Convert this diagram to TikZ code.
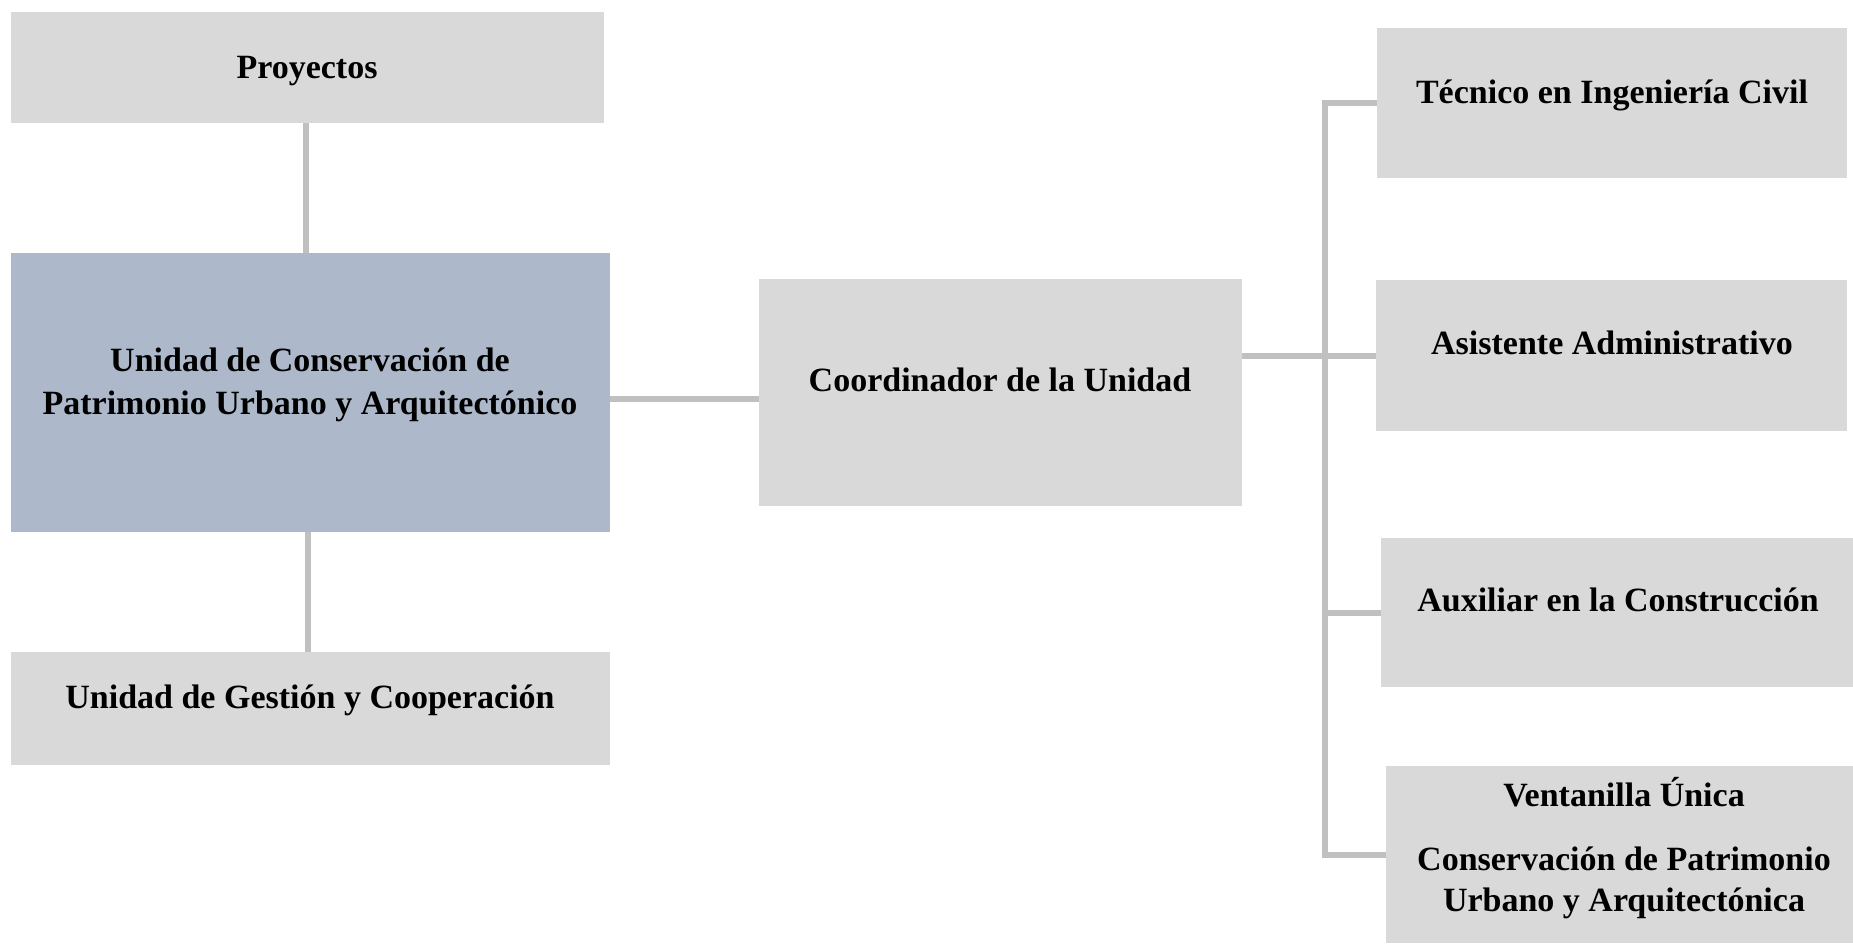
\documentclass[tikz,border=0pt]{standalone}
\usepackage{fontspec}
\setmainfont{Liberation Serif}
\definecolor{boxgray}{HTML}{D9D9D9}
\definecolor{boxblue}{HTML}{ADB9CA}
\definecolor{linegray}{HTML}{C0C0C0}
\tikzset{
  box/.style={rectangle, fill=boxgray, draw=none, inner sep=0pt, anchor=north west},
  bluebox/.style={box, fill=boxblue},
  lbl/.style={anchor=base, inner sep=0pt, align=center, font=\bfseries\fontsize{34}{42}\selectfont, text=black},
  conn/.style={draw=linegray, line width=6pt, line join=miter}
}
\begin{document}
\begin{tikzpicture}[x=1pt,y=-1pt]
\fill[white] (0,0) rectangle (1853,943);
\useasboundingbox (0,0) rectangle (1853,943);
% boxes
\node[box, minimum width=593pt, minimum height=111pt] (proy) at (11,12) {};
\node[bluebox, minimum width=599pt, minimum height=279pt] (ucp) at (11,253) {};
\node[box, minimum width=599pt, minimum height=113pt] (gest) at (11,652) {};
\node[box, minimum width=483pt, minimum height=227pt] (coord) at (759,279) {};
\node[box, minimum width=470pt, minimum height=150pt] (tec) at (1377,28) {};
\node[box, minimum width=471pt, minimum height=151pt] (asis) at (1376,280) {};
\node[box, minimum width=472pt, minimum height=149pt] (aux) at (1381,538) {};
\node[box, minimum width=467pt, minimum height=177pt] (vent) at (1386,766) {};
% labels
\node[lbl] (tproy) at (307,78) {Proyectos};
\node[lbl] (tucp1) at (310,371) {Unidad de Conservación de};
\node[lbl] (tucp2) at (310,414) {Patrimonio Urbano y Arquitectónico};
\node[lbl] (tgest) at (310,708) {Unidad de Gestión y Cooperación};
\node[lbl] (tcoord) at (1000,391) {Coordinador de la Unidad};
\node[lbl] (ttec) at (1612,103) {Técnico en Ingeniería Civil};
\node[lbl] (tasis) at (1612,354) {Asistente Administrativo};
\node[lbl] (taux) at (1618,611) {Auxiliar en la Construcción};
\node[lbl] (tvent1) at (1624,806) {Ventanilla Única};
\node[lbl] (tvent2) at (1624,870) {Conservación de Patrimonio};
\node[lbl] (tvent3) at (1624,911) {Urbano y Arquitectónica};
% connectors
\coordinate (bx) at (1325,0);
\draw[conn] ([xshift=-1.5pt]proy.south) -- ([xshift=-1.5pt]proy.south |- ucp.north);
\draw[conn] ([xshift=-2.5pt]ucp.south) -- ([xshift=-2.5pt]ucp.south |- gest.north);
\draw[conn] ([yshift=-6pt]ucp.east) -- ([yshift=-6pt]ucp.east -| coord.west);
\draw[conn] (tec.west) -| (vent.west -| bx) -- (vent.west);
\draw[conn] (coord.east |- asis.west) -- (asis.west);
\draw[conn] (aux.west) -- (aux.west -| bx);
\end{tikzpicture}
\end{document}
